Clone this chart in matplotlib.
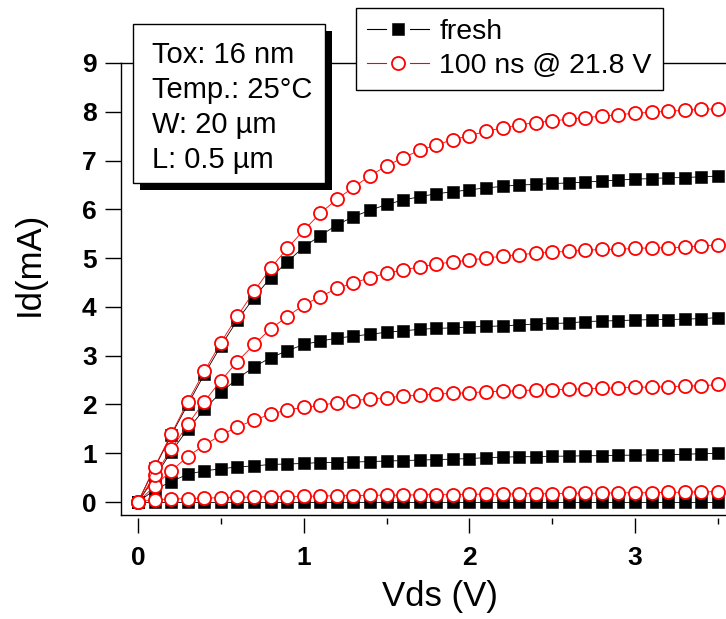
import matplotlib
matplotlib.use("Agg")
import matplotlib.pyplot as plt
from matplotlib.lines import Line2D
from matplotlib.patches import Rectangle
from matplotlib.legend_handler import HandlerLine2D

plt.rcParams['font.family'] = ['Liberation Sans', 'DejaVu Sans']

# ---------------- data ----------------
vds = [0.0, 0.1, 0.2, 0.3, 0.4, 0.5, 0.6, 0.7, 0.8, 0.9, 1.0, 1.1, 1.2, 1.3, 1.4, 1.5,
       1.6, 1.7, 1.8, 1.9, 2.0, 2.1, 2.2, 2.3, 2.4, 2.5, 2.6, 2.7, 2.8, 2.9, 3.0, 3.1,
       3.2, 3.3, 3.4, 3.5]

fresh_vg4 = [0.00, 0.70, 1.37, 2.00, 2.62, 3.20, 3.73, 4.19, 4.60, 4.92, 5.23, 5.46,
             5.68, 5.85, 5.98, 6.10, 6.19, 6.26, 6.32, 6.36, 6.40, 6.44, 6.47, 6.50,
             6.51, 6.53, 6.54, 6.56, 6.58, 6.60, 6.62, 6.63, 6.65, 6.65, 6.67, 6.68]
fresh_vg3 = [0.00, 0.50, 1.03, 1.49, 1.90, 2.25, 2.53, 2.77, 2.96, 3.10, 3.23, 3.30,
             3.36, 3.40, 3.44, 3.48, 3.51, 3.54, 3.56, 3.57, 3.59, 3.60, 3.61, 3.63,
             3.65, 3.66, 3.67, 3.70, 3.71, 3.72, 3.73, 3.74, 3.74, 3.75, 3.76, 3.78]
fresh_vg2 = [0.00, 0.25, 0.42, 0.57, 0.64, 0.68, 0.72, 0.74, 0.77, 0.78, 0.79, 0.81,
             0.81, 0.82, 0.83, 0.84, 0.85, 0.86, 0.87, 0.88, 0.89, 0.91, 0.92, 0.93,
             0.93, 0.94, 0.94, 0.95, 0.95, 0.96, 0.96, 0.97, 0.97, 0.98, 0.99, 1.00]
fresh_vg1 = [0.00, 0.00, 0.00, 0.00, 0.00, 0.00, 0.00, 0.00, 0.00, 0.00, 0.00, 0.00,
             0.00, 0.00, 0.00, 0.00, 0.00, 0.00, 0.00, 0.00, 0.00, 0.00, 0.00, 0.00,
             0.00, 0.00, 0.00, 0.00, 0.00, 0.00, 0.00, 0.00, 0.00, 0.00, 0.00, 0.00]

stress_vg4 = [0.00, 0.72, 1.39, 2.06, 2.68, 3.27, 3.81, 4.32, 4.79, 5.20, 5.57, 5.92,
              6.21, 6.45, 6.69, 6.89, 7.06, 7.21, 7.32, 7.43, 7.51, 7.60, 7.67, 7.73,
              7.78, 7.81, 7.85, 7.88, 7.91, 7.94, 7.97, 7.99, 8.01, 8.03, 8.05, 8.06]
stress_vg3 = [0.00, 0.55, 1.08, 1.59, 2.06, 2.49, 2.88, 3.23, 3.55, 3.80, 4.04, 4.21,
              4.38, 4.49, 4.60, 4.69, 4.76, 4.82, 4.88, 4.92, 4.96, 5.00, 5.04, 5.07,
              5.10, 5.12, 5.14, 5.16, 5.18, 5.18, 5.20, 5.21, 5.21, 5.22, 5.25, 5.27]
stress_vg2 = [0.00, 0.33, 0.64, 0.93, 1.17, 1.37, 1.54, 1.68, 1.80, 1.89, 1.94, 1.98,
              2.04, 2.08, 2.11, 2.14, 2.17, 2.19, 2.21, 2.23, 2.24, 2.26, 2.27, 2.28,
              2.30, 2.30, 2.31, 2.32, 2.33, 2.34, 2.35, 2.36, 2.36, 2.38, 2.38, 2.41]
stress_vg1 = [0.00, 0.05, 0.06, 0.07, 0.08, 0.09, 0.10, 0.10, 0.11, 0.11, 0.12, 0.12,
              0.13, 0.13, 0.14, 0.14, 0.14, 0.15, 0.15, 0.15, 0.16, 0.16, 0.16, 0.17,
              0.17, 0.17, 0.18, 0.18, 0.18, 0.19, 0.19, 0.19, 0.20, 0.20, 0.21, 0.21]

x_ticks = [0, 1, 2, 3]
x_minor_ticks = [0.5, 1.5, 2.5, 3.5]
y_ticks = [0, 1, 2, 3, 4, 5, 6, 7, 8, 9]

legend_labels = ["fresh", "100 ns @ 21.8 V"]
info_lines = ["Tox: 16 nm", "Temp.: 25°C", "W: 20 µm", "L: 0.5 µm"]

# ---------------- figure ----------------
W, H = 726, 619
fig = plt.figure(figsize=(W / 100, H / 100), dpi=100)
ax = fig.add_axes([121 / W, 1 - 515 / H, 605 / W, 452 / H])

sq_style = dict(color='black', lw=0.6, marker='s', ms=8.6, mfc='black', mec='black', mew=0.4)
ci_style = dict(color='red', lw=0.6, marker='o', ms=9.4, mfc='white', mec='red', mew=1.3)

for ys in [fresh_vg1, fresh_vg2, fresh_vg3, fresh_vg4]:
    ax.plot(vds, ys, zorder=3, **sq_style)
for ys in [stress_vg1, stress_vg2, stress_vg3, stress_vg4]:
    ax.plot(vds, ys, zorder=4, **ci_style)

ax.set_xlim(-0.103, 3.549)
ax.set_ylim(-0.266, 9.0)
ax.set_xticks(x_ticks)
ax.set_xticks(x_minor_ticks, minor=True)
ax.set_yticks(y_ticks)
ax.set_xticklabels([str(t) for t in x_ticks])
ax.set_yticklabels([str(t) for t in y_ticks])

ax.spines['right'].set_visible(False)
for s in ['left', 'top']:
    ax.spines[s].set_linewidth(1.0)
# bottom ticks are detached from the axis line
ax.spines['bottom'].set_position(('outward', 2.2))
ax.spines['bottom'].set_color('none')
ax.plot([0, 1], [0, 0], transform=ax.transAxes, color='black', lw=1.0,
        clip_on=False, zorder=2.6)

ax.tick_params(axis='y', which='major', direction='out', length=11.5, width=1.0,
               pad=6, labelsize=19)
ax.tick_params(axis='x', which='major', direction='out', length=10.8, width=1.0,
               pad=9, labelsize=19)
ax.tick_params(axis='x', which='minor', direction='out', length=4.5, width=1.0)
for lab in ax.get_xticklabels() + ax.get_yticklabels():
    lab.set_fontweight('bold')

ax.set_xlabel("Vds (V)", fontsize=25)
ax.xaxis.set_label_coords((440 - 121) / 605, (515 - 606) / 452)
ax.xaxis.label.set_va('baseline')
ax.set_ylabel("Id(mA)", fontsize=25)
ax.yaxis.set_label_coords((39 - 121) / 605, (515 - 264) / 452)
ax.yaxis.label.set_va('baseline')


# legend handles drawn as "—marker—" with small gaps around the marker
class GapHandler(HandlerLine2D):
    def create_artists(self, legend, orig_handle, xdescent, ydescent, width, height,
                       fontsize, trans):
        ydata = height / 2 - ydescent
        gap = 0.19 * width
        left = Line2D([-xdescent, -xdescent + width / 2 - gap], [ydata, ydata],
                      color=orig_handle.get_color(), lw=0.8)
        right = Line2D([-xdescent + width / 2 + gap, -xdescent + width], [ydata, ydata],
                       color=orig_handle.get_color(), lw=0.8)
        mark = Line2D([-xdescent + width / 2], [ydata], linestyle='none',
                      marker=orig_handle.get_marker(), ms=orig_handle.get_markersize(),
                      mfc=orig_handle.get_markerfacecolor(),
                      mec=orig_handle.get_markeredgecolor(),
                      mew=orig_handle.get_markeredgewidth())
        for a in (left, right, mark):
            a.set_transform(trans)
        return [left, right, mark]


handles = [Line2D([], [], **sq_style), Line2D([], [], **ci_style)]
leg = ax.legend(handles, legend_labels, loc='upper left',
                bbox_to_anchor=(356 / W, 1 - 8 / H), bbox_transform=fig.transFigure,
                borderaxespad=0, frameon=True, fancybox=False, shadow=False,
                edgecolor='black', framealpha=1, fontsize=20.5, numpoints=1,
                handlelength=2.2, handletextpad=0.35, borderpad=0.38, labelspacing=0.3,
                handler_map={Line2D: GapHandler()})
leg.get_frame().set_linewidth(1.0)
leg.set_zorder(10)

# info box with shadow
shadow = Rectangle((140 / W, 1 - 190 / H), 192 / W, 159 / H, transform=fig.transFigure,
                   facecolor='black', edgecolor='black', lw=0, zorder=5)
box = Rectangle((133 / W, 1 - 183 / H), 192 / W, 159 / H, transform=fig.transFigure,
                facecolor='white', edgecolor='black', lw=1.0, zorder=6)
fig.patches.extend([shadow, box])
for i, line in enumerate(info_lines):
    fig.text(152 / W, 1 - (63 + 35 * i) / H, line, fontsize=21, ha='left',
             va='baseline', zorder=7)

fig.savefig("out.png", dpi=100)
